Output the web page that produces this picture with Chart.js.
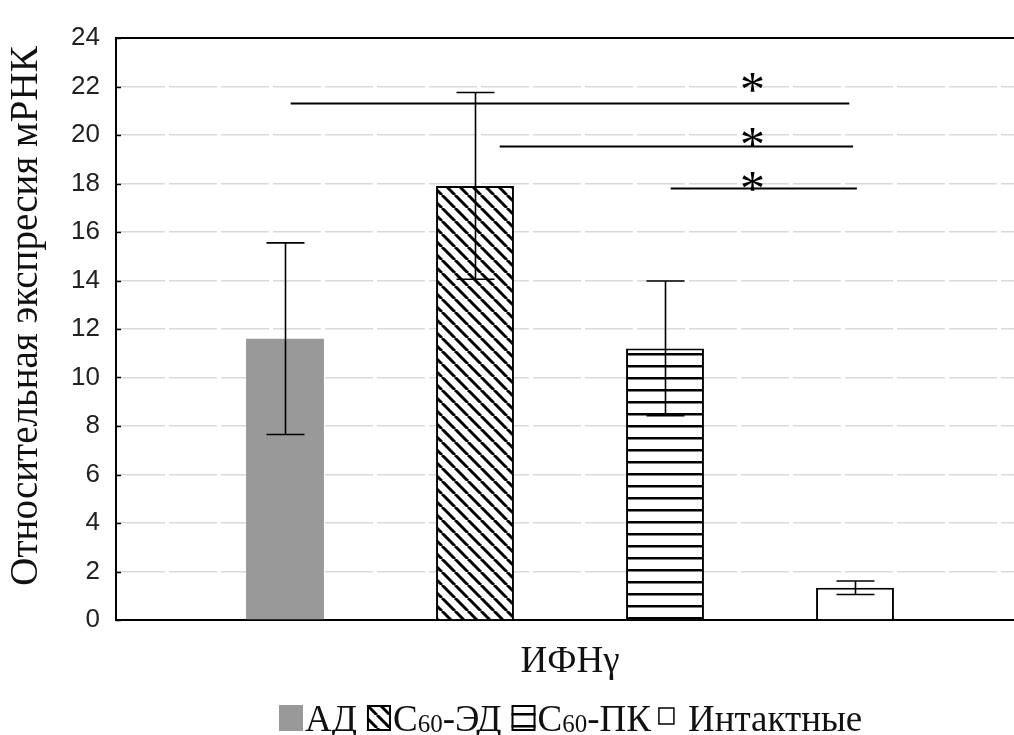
<!DOCTYPE html>
<html>
<head>
<meta charset="utf-8">
<script src="https://cdn.jsdelivr.net/npm/chart.js@4.4.0/dist/chart.umd.min.js"></script>
<style>
  html, body { margin: 0; padding: 0; background: #fff; overflow: hidden; }
  #wrap { width: 1024px; height: 735px; }
</style>
</head>
<body>
<div id="wrap"><canvas id="chart" width="1024" height="735"></canvas></div>
<script>
const categories = ['ИФНγ'];
const groupNames = ['АД', 'С60-ЭД', 'С60-ПК', 'Интактные'];
const meanValues = [11.6, 17.9, 11.2, 1.33];
const errValues = [3.95, 3.85, 2.78, 0.28];
const yTickValues = [0, 2, 4, 6, 8, 10, 12, 14, 16, 18, 20, 22, 24];
const sigLevels = [21.3, 19.55, 17.8];
const starLevels = [22.15, 19.9, 18.1];
const yTitle = 'Относительная экспресия мРНК';

const serif = '"Liberation Serif", "DejaVu Serif", serif';
const sans = '"Liberation Sans", Arial, sans-serif';

function diagonalPattern() {
    const s = 13;
    const c = document.createElement('canvas');
    c.width = s; c.height = s;
    const g = c.getContext('2d');
    g.fillStyle = '#fff';
    g.fillRect(0, 0, s, s);
    g.strokeStyle = '#000';
    g.lineWidth = 3;
    [-s, 0, s].forEach(x0 => {
        g.beginPath();
        g.moveTo(x0, 0);
        g.lineTo(x0 + s, s);
        g.stroke();
    });
    return g.createPattern(c, 'repeat');
}

function stripePattern() {
    const c = document.createElement('canvas');
    c.width = 8; c.height = 12;
    const g = c.getContext('2d');
    g.fillStyle = '#fff';
    g.fillRect(0, 0, 8, 12);
    g.fillStyle = '#000';
    g.fillRect(0, 5, 8, 2.5);
    return g.createPattern(c, 'repeat');
}

const fills = ['#999999', diagonalPattern(), stripePattern(), '#ffffff'];
const borders = [0, 2, 2, 2];

const datasets = groupNames.map((name, i) => ({
    label: name,
    data: [meanValues[i]],
    err: [errValues[i]],
    backgroundColor: fills[i],
    borderColor: '#000',
    borderWidth: borders[i],
    borderSkipped: 'bottom',
    categoryPercentage: 0.837,
    barPercentage: 0.41
}));

// error bars with caps on every bar
const errorBars = {
    id: 'errorBars',
    afterDatasetsDraw(chart) {
        const ctx = chart.ctx;
        const y = chart.scales.y;
        ctx.save();
        ctx.strokeStyle = '#000';
        ctx.lineWidth = 1.6;
        chart.data.datasets.forEach((ds, i) => {
            chart.getDatasetMeta(i).data.forEach((bar, j) => {
                const hi = y.getPixelForValue(ds.data[j] + ds.err[j]);
                const lo = y.getPixelForValue(ds.data[j] - ds.err[j]);
                const x = Math.round(bar.x) + 0.5;
                ctx.beginPath();
                ctx.moveTo(x, hi); ctx.lineTo(x, lo);
                ctx.moveTo(x - 19, hi); ctx.lineTo(x + 19, hi);
                ctx.moveTo(x - 19, lo); ctx.lineTo(x + 19, lo);
                ctx.stroke();
            });
        });
        ctx.restore();
    }
};

// significance lines and asterisks
const significance = {
    id: 'significance',
    afterDatasetsDraw(chart, args, opts) {
        const ctx = chart.ctx;
        const y = chart.scales.y;
        const xs = chart.data.datasets.map((ds, i) => chart.getDatasetMeta(i).data[0].x);
        const at = f => {
            const k = Math.min(Math.floor(f), xs.length - 2);
            return xs[k] + (f - k) * (xs[k + 1] - xs[k]);
        };
        ctx.save();
        ctx.strokeStyle = '#000';
        ctx.lineWidth = 1.8;
        ctx.fillStyle = '#000';
        ctx.font = '50px ' + serif;
        ctx.textAlign = 'center';
        ctx.textBaseline = 'alphabetic';
        const m = ctx.measureText('*');
        const mid = (m.actualBoundingBoxAscent - m.actualBoundingBoxDescent) / 2;
        sigLevels.forEach((v, i) => {
            const py = Math.round(y.getPixelForValue(v)) + 0.5;
            ctx.beginPath();
            ctx.moveTo(at(opts.from[i]), py);
            ctx.lineTo(at(opts.to[i]), py);
            ctx.stroke();
            ctx.fillText('*', at(opts.star), y.getPixelForValue(starLevels[i]) + mid);
        });
        ctx.restore();
    }
};

// frame top line, inward tick marks and the rotated axis title
const axisExtras = {
    id: 'axisExtras',
    afterDraw(chart) {
        const ctx = chart.ctx;
        const y = chart.scales.y;
        const { left, top, right } = chart.chartArea;
        ctx.save();
        ctx.strokeStyle = '#000';
        ctx.lineWidth = 1.5;
        yTickValues.forEach(v => {
            const py = Math.round(y.getPixelForValue(v)) + 0.5;
            ctx.beginPath();
            ctx.moveTo(left, py);
            ctx.lineTo(left + 5, py);
            ctx.stroke();
        });
        ctx.lineWidth = 2;
        ctx.beginPath();
        ctx.moveTo(left - 1, top);
        ctx.lineTo(right, top);
        ctx.stroke();

        ctx.translate(37, (y.getPixelForValue(0) + y.getPixelForValue(24)) / 2 - 13);
        ctx.rotate(-Math.PI / 2);
        ctx.font = '39px ' + serif;
        ctx.fillStyle = '#111';
        ctx.textAlign = 'center';
        ctx.textBaseline = 'alphabetic';
        ctx.fillText(yTitle, 0, 0);
        ctx.restore();
    }
};

// legend row with subscripted "60"
const bottomLegend = {
    id: 'bottomLegend',
    afterDraw(chart) {
        const ctx = chart.ctx;
        const big = '37px ' + serif;
        const small = '25px ' + serif;
        const base = 731;
        let x = 279;
        ctx.save();
        ctx.textBaseline = 'alphabetic';
        const drawText = (s) => {
            const parts = s.split('60');
            parts.forEach((p, k) => {
                ctx.font = big;
                ctx.fillStyle = '#111';
                ctx.fillText(p, x, base);
                x += ctx.measureText(p).width;
                if (k < parts.length - 1) {
                    ctx.font = small;
                    ctx.fillText('60', x, base + 1);
                    x += ctx.measureText('60').width;
                }
            });
        };
        chart.data.datasets.forEach((ds, i) => {
            const last = i === chart.data.datasets.length - 1;
            const bw = last ? 17 : 24;
            const bh = last ? 18 : 26;
            const top = last ? 707 : 705;
            if (last) x -= 3;
            ctx.fillStyle = ds.backgroundColor;
            ctx.fillRect(x, top, bw, bh);
            if (ds.borderWidth) {
                ctx.strokeStyle = '#000';
                ctx.lineWidth = last ? 1.5 : 2;
                ctx.strokeRect(x + 1, top + 1, bw - 2, bh - 2);
            }
            x += bw + (last ? 13 : 2);
            drawText(ds.label);
            x += 10;
        });
        ctx.restore();
    }
};

new Chart(document.getElementById('chart'), {
    type: 'bar',
    data: { labels: categories, datasets: datasets },
    options: {
        responsive: false,
        animation: false,
        layout: { padding: { top: 38, right: 0, left: 0, bottom: 0 } },
        plugins: {
            legend: { display: false },
            tooltip: { enabled: false },
            significance: { from: [0.03, 1.13, 2.03], to: [2.97, 2.99, 3.01], star: 2.46 }
        },
        scales: {
            x: {
                grid: { display: false },
                border: { display: true, color: '#000', width: 2 },
                ticks: { color: '#111', font: { family: serif, size: 37 }, padding: 12 },
                afterFit(scale) { scale.height = 115; }
            },
            y: {
                min: 0,
                max: 24,
                afterBuildTicks(scale) { scale.ticks = yTickValues.map(v => ({ value: v })); },
                grid: {
                    color: ctx => (ctx.tick && ctx.tick.value === 24) ? 'rgba(0,0,0,0)' : '#d9d9d9',
                    lineWidth: 1.5,
                    drawTicks: false
                },
                border: { display: true, color: '#000', width: 2, dash: [48, 4] },
                ticks: { color: '#222', font: { family: sans, size: 26 }, padding: 16 },
                afterFit(scale) { scale.width = 116; }
            }
        }
    },
    plugins: [errorBars, significance, axisExtras, bottomLegend]
});
</script>
</body>
</html>
